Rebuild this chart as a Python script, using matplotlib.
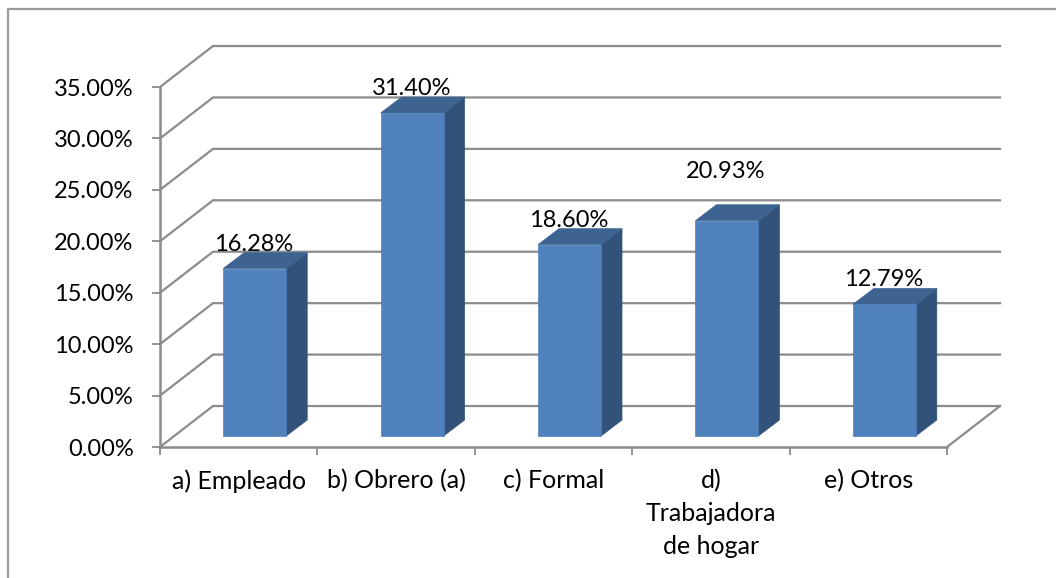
import matplotlib
matplotlib.use("Agg")
import matplotlib.pyplot as plt
from matplotlib.patches import Polygon

categories = ["a) Empleado", "b) Obrero (a)", "c) Formal", "d)\nTrabajadora\nde hogar", "e) Otros"]
values = [16.28, 31.40, 18.60, 20.93, 12.79]
labels = ["16.28%", "31.40%", "18.60%", "20.93%", "12.79%"]
y_ticks = [0, 5, 10, 15, 20, 25, 30, 35]
y_tick_labels = ["0.00%", "5.00%", "10.00%", "15.00%", "20.00%", "25.00%", "30.00%", "35.00%"]
# label nudges in % units, the d) label floats high in the original
label_lift = [0.0, 0.0, 0.0, 2.4, 0.0]

W, H = 1056, 578
GRAY = "#8c8c8c"
FRONT, SIDE, TOP = "#4f81bd", "#325279", "#3d6491"
FS = 17

plt.rcParams["font.family"] = ["Lato", "DejaVu Sans"]
fig = plt.figure(figsize=(W / 100, H / 100), dpi=100)
ax = fig.add_axes([160 / W, 1 - 447 / H, 787 / W, 360 / H])
ax.set_xlim(0, 5)
ax.set_ylim(0, 35)
ax.patch.set_visible(False)

# 3D look: wall offset and bar depth, in data units
wall_dx, wall_dy = 53 / 157.4, 41 / 10.29
base_dx, base_dy = 16 / 157.4, 11 / 10.29
bar_dx, bar_dy = 21 / 157.4, 16 / 10.29
bar_w = 63 / 157.4

for y in y_ticks:
    ax.plot([0, wall_dx, 5 + wall_dx], [y, y + wall_dy, y + wall_dy], color=GRAY, lw=1.6,
            clip_on=False, solid_joinstyle="miter", zorder=1)
ax.plot([5, 5 + wall_dx], [0, wall_dy], color=GRAY, lw=1.6, clip_on=False, zorder=1)

for i, v in enumerate(values):
    x0 = i + 0.5 - bar_w / 2 + base_dx
    x1 = x0 + bar_w
    y0 = base_dy
    y1 = y0 + v
    ax.add_patch(Polygon([(x1, y0), (x1 + bar_dx, y0 + bar_dy), (x1 + bar_dx, y1 + bar_dy), (x1, y1)],
                         fc=SIDE, ec=SIDE, lw=0.5, clip_on=False, zorder=3))
    ax.add_patch(Polygon([(x0, y1), (x1, y1), (x1 + bar_dx, y1 + bar_dy), (x0 + bar_dx, y1 + bar_dy)],
                         fc=TOP, ec=TOP, lw=0.5, clip_on=False, zorder=3))
    ax.add_patch(Polygon([(x0, y0), (x1, y0), (x1, y1), (x0, y1)],
                         fc=FRONT, ec=FRONT, lw=0.5, clip_on=False, zorder=4))
    ax.text((x0 + x1) / 2 - 0.005, y1 + bar_dy + 0.2 + label_lift[i], labels[i], ha="center", va="baseline",
            fontsize=FS, color="black", zorder=5, clip_on=False)

for s in ["top", "right"]:
    ax.spines[s].set_visible(False)
for s in ["left", "bottom"]:
    ax.spines[s].set_color(GRAY)
    ax.spines[s].set_linewidth(1.8)
    ax.spines[s].set_zorder(2)

ax.set_yticks(y_ticks)
ax.set_yticklabels(y_tick_labels)
ax.set_xticks(range(6))
ax.set_xticklabels([])
ax.set_xticks([i + 0.5 for i in range(5)], minor=True)
ax.set_xticklabels(categories, minor=True, linespacing=1.5, va="top")
ax.tick_params(axis="x", which="minor", length=0, labelsize=18, pad=16)
ax.tick_params(axis="x", which="major", length=6, width=1.3, color=GRAY)
ax.tick_params(axis="y", length=6, width=1.3, color=GRAY, labelsize=FS, pad=13)

# chart frame, cut off by the image at the right and bottom
fig.add_artist(plt.Line2D([8 / W, 8 / W, 1], [0, 1 - 9 / H, 1 - 9 / H], color="#9a9a9a", lw=1.6))

fig.savefig("out.png", dpi=100)
